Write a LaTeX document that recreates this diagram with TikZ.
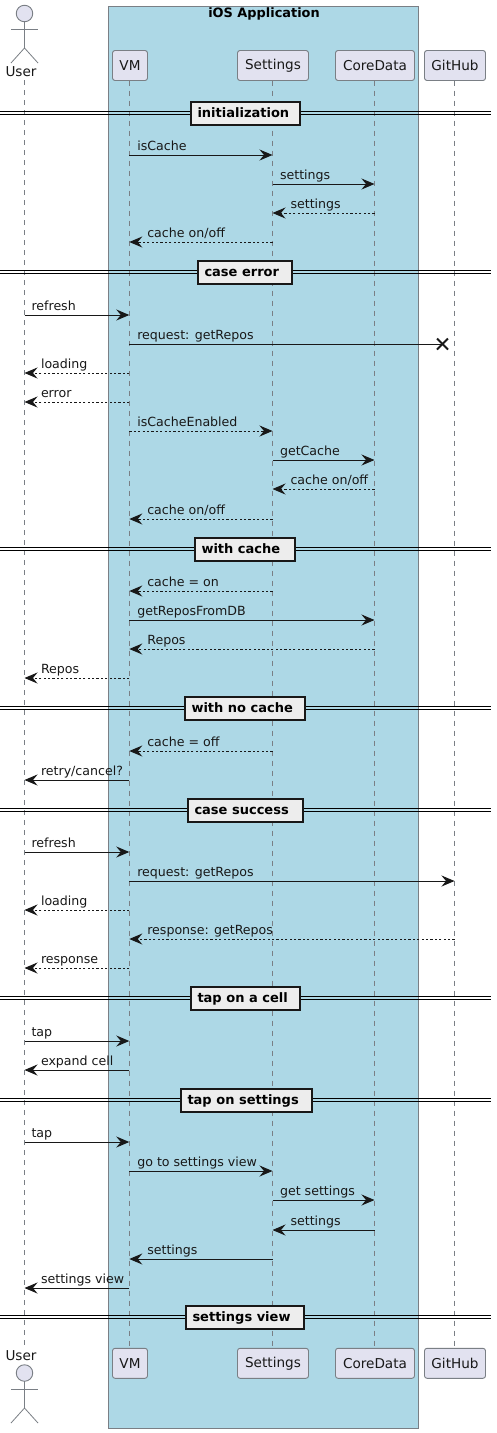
\documentclass[tikz,border=0pt]{standalone}
\usepackage{fontspec}
\setmainfont{DejaVu Sans}
\usetikzlibrary{arrows.meta,calc}
\definecolor{partfill}{HTML}{E2E2F0}
\definecolor{partline}{HTML}{7A7F85}
\definecolor{groupfill}{HTML}{ADD8E6}
\definecolor{ink}{HTML}{181818}
\tikzset{
  every node/.style={outer sep=0pt},
  partbox/.style={draw=partline,fill=partfill,rounded corners=2.5pt,line width=0.9pt,minimum height=30pt,inner sep=0pt,text=ink,font=\fontsize{13.6}{16}\selectfont},
  lifeline/.style={draw=partline,line width=1pt,dash pattern=on 5pt off 5pt},
  actorline/.style={draw=partline,line width=0.8pt},
  msgsolid/.style={draw=ink,line width=1pt,-{Stealth[length=13pt,width=11pt,inset=4.5pt]}},
  msgdash/.style={msgsolid,dash pattern=on 2.2pt off 2.2pt},
  msgtext/.style={anchor=base west,inner sep=0pt,text=ink,font=\fontsize{12.6}{15}\selectfont},
  sepbox/.style={draw=ink,fill=black!7,line width=2pt,minimum height=23pt,inner sep=0pt},
  septext/.style={inner sep=0pt,text=black,font=\fontsize{13}{15}\bfseries\selectfont,anchor=base west},
  sepline/.style={draw=black,line width=1pt},
}
% \amsg{from}{to}{y}{style}{label}{lifeline the label is measured from}
\newcommand{\amsg}[6]{%
  \coordinate (s#3) at (#1 |- 0,-#3);
  \coordinate (e#3) at (#2 |- 0,-#3);
  \draw[#4] (s#3) -- (e#3);
  \node[msgtext] (t#3) at ($(#6 |- 0,-#3)+(\csname off#1#2\endcsname,5)$) {#5};
}
\def\offUV{7}\def\offVS{8}\def\offSC{7.5}\def\offVC{8}\def\offVG{8}
\def\offVU{16.5}\def\offSV{18}\def\offCS{18}\def\offCV{18}\def\offGV{18}
\newcommand{\asep}[4]{% y, x-left, x-right, label
  \coordinate (la#1) at (0,-#1-1.5);
  \coordinate (ra#1) at (491,-#1-1.5);
  \coordinate (lb#1) at (0,-#1+1.5);
  \coordinate (rb#1) at (491,-#1+1.5);
  \draw[sepline] (la#1) -- (ra#1);
  \draw[sepline] (lb#1) -- (rb#1);
  \node[sepbox,minimum width=#3pt-#2pt] (b#1) at ({(#2+#3)/2},-#1) {};
  \node[septext] (bt#1) at (#2+6.5,-#1-4.5) {#4};
}
\newcommand{\actorfig}[5]{% head y, arms y, hip y, feet y, name prefix
  \node[draw=partline,fill=partfill,circle,line width=0.9pt,minimum size=16.5pt,inner sep=0pt] (#5head) at (24.5,-#1) {};
  \coordinate (#5hip) at (24.5,-#3);
  \coordinate (#5al) at (11,-#2);
  \coordinate (#5ar) at (38,-#2);
  \coordinate (#5fl) at (11,-#4);
  \coordinate (#5fr) at (38,-#4);
  \draw[actorline] (#5head.south) -- (#5hip);
  \draw[actorline] (#5al) -- (#5ar);
  \draw[actorline] (#5fl) -- (#5hip) -- (#5fr);
}
\begin{document}
\begin{tikzpicture}[x=1pt,y=1pt]
\useasboundingbox (0,0) rectangle (496,-1433);
\fill[white] (0,0) rectangle (496,-1433);
% group
\node[draw=partline,fill=groupfill,line width=1pt,minimum width=310pt,minimum height=1422pt,inner sep=0pt,anchor=north west] (grp) at (108.5,-6.5) {};
\node[font=\fontsize{12.9}{15}\bfseries\selectfont,text=black,inner sep=0pt] (grptitle) at (264,-13.5) {iOS Application};
% participants
\node[partbox,minimum width=35pt] (vmT) at (130,-65.5) {VM};
\node[partbox,minimum width=71pt] (setT) at (273,-65.5) {Settings};
\node[partbox,minimum width=79pt] (cdT) at (375,-65.5) {CoreData};
\node[partbox,minimum width=61pt] (ghT) at (455,-65.5) {GitHub};
\node[partbox,minimum width=35pt] (vmB) at (130,-1363.3) {VM};
\node[partbox,minimum width=71pt] (setB) at (273,-1363.3) {Settings};
\node[partbox,minimum width=79pt] (cdB) at (375,-1363.3) {CoreData};
\node[partbox,minimum width=61pt] (ghB) at (455,-1363.3) {GitHub};
% actors
\actorfig{13.5}{29}{48}{63}{ua}
\node[inner sep=0pt,text=ink,font=\fontsize{13.6}{16}\selectfont] (userT) at (21,-72) {User};
\actorfig{1373}{1389}{1408}{1423}{ub}
\node[inner sep=0pt,text=ink,font=\fontsize{13.6}{16}\selectfont] (userB) at (21,-1356) {User};
% reference points for x positions
\coordinate (U) at (24.5,-80);
\coordinate (UE) at (24.5,-1346);
\coordinate (V) at (129.3,-80);
\coordinate (S) at (272.5,-80);
\coordinate (C) at (374.5,-80);
\coordinate (G) at (454.5,-80);
% lifelines
\draw[lifeline] (U) -- (UE);
\draw[lifeline] (vmT.south -| V) -- (vmB.north -| V);
\draw[lifeline] (setT.south -| S) -- (setB.north -| S);
\draw[lifeline] (cdT.south -| C) -- (cdB.north -| C);
\draw[lifeline] (ghT.south -| G) -- (ghB.north -| G);
% separators
\asep{113}{191}{300}{initialization}
\asep{272}{198}{292}{case error}
\asep{549}{195}{295}{with cache}
\asep{708}{185}{305}{with no cache}
\asep{810}{188}{303}{case success}
\asep{998}{191}{300}{tap on a cell}
\asep{1100}{181}{312}{tap on settings}
\asep{1317}{186}{304}{settings view}
% messages
\amsg{V}{S}{155}{msgsolid}{isCache}{V}
\amsg{S}{C}{184}{msgsolid}{settings}{S}
\amsg{C}{S}{213}{msgdash}{settings}{S}
\amsg{S}{V}{242}{msgdash}{cache on/off}{V}
\amsg{U}{V}{315}{msgsolid}{refresh}{U}
\coordinate (X) at (442.5,-344);
\coordinate (s344) at (V |- 0,-344);
\draw[msgsolid,-] (s344) -- (X);
\node[msgtext] (t344) at ($(V |- 0,-344)+(8,5)$) {request: getRepos};
\coordinate (xa) at ($(X)+(-5.5,5.5)$);
\coordinate (xb) at ($(X)+(5.5,-5.5)$);
\coordinate (xc) at ($(X)+(-5.5,-5.5)$);
\coordinate (xd) at ($(X)+(5.5,5.5)$);
\draw[ink,line width=2pt] (xa) -- (xb);
\draw[ink,line width=2pt] (xc) -- (xd);
\amsg{V}{U}{373}{msgdash}{loading}{U}
\amsg{V}{U}{402}{msgdash}{error}{U}
\amsg{V}{S}{431}{msgdash}{isCacheEnabled}{V}
\amsg{S}{C}{460}{msgsolid}{getCache}{S}
\amsg{C}{S}{489}{msgdash}{cache on/off}{S}
\amsg{S}{V}{519}{msgdash}{cache on/off}{V}
\amsg{S}{V}{591}{msgdash}{cache = on}{V}
\amsg{V}{C}{620}{msgsolid}{getReposFromDB}{V}
\amsg{C}{V}{649}{msgdash}{Repos}{V}
\amsg{V}{U}{678}{msgdash}{Repos}{U}
\amsg{S}{V}{751}{msgdash}{cache = off}{V}
\amsg{V}{U}{780}{msgsolid}{retry/cancel?}{U}
\amsg{U}{V}{852}{msgsolid}{refresh}{U}
\amsg{V}{G}{881}{msgsolid}{request: getRepos}{V}
\amsg{V}{U}{910}{msgdash}{loading}{U}
\amsg{G}{V}{939}{msgdash}{response: getRepos}{V}
\amsg{V}{U}{968}{msgdash}{response}{U}
\amsg{U}{V}{1041}{msgsolid}{tap}{U}
\amsg{V}{U}{1070}{msgsolid}{expand cell}{U}
\amsg{U}{V}{1142}{msgsolid}{tap}{U}
\amsg{V}{S}{1171}{msgsolid}{go to settings view}{V}
\amsg{S}{C}{1200}{msgsolid}{get settings}{S}
\amsg{C}{S}{1230}{msgsolid}{settings}{S}
\amsg{S}{V}{1259}{msgsolid}{settings}{V}
\amsg{V}{U}{1288}{msgsolid}{settings view}{U}
\end{tikzpicture}
\end{document}
